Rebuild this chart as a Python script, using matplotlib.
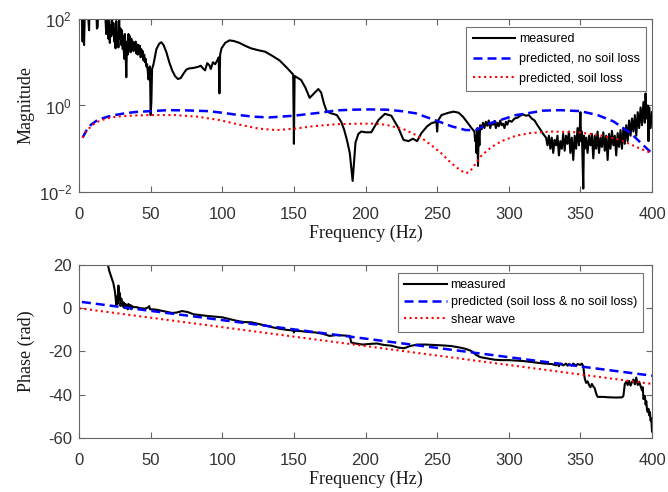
"""
Magnitude / phase comparison: measured vs predicted response
"""

import matplotlib
matplotlib.use('Agg')
import matplotlib.pyplot as plt
from matplotlib.ticker import NullLocator

# ---- measured magnitude ----
mag_freq = [
    2, 2.5, 3, 3.5, 4, 5, 6, 7, 7.5, 8, 9, 10, 11, 12, 12.5, 13, 13.5, 14.5, 16, 17,
    18, 19, 19.5, 20, 20.5, 21, 21.5, 22, 22.5, 23, 23.5, 24, 24.5, 25, 25.5, 26, 26.5, 27,
    27.5, 28, 28.5, 29, 29.5, 30, 30.5, 31, 31.5, 32, 32.5, 33, 33.5, 34, 34.5, 35, 35.5,
    36, 36.5, 37, 37.5, 38, 38.5, 39, 39.5, 40, 40.5, 41, 41.5, 42, 42.5, 43, 43.5, 44,
    44.5, 45, 45.5, 46, 46.5, 47, 47.5, 48, 48.5, 49, 49.5, 50, 50.5, 51, 52, 54, 56,
    57.5, 59, 61, 63, 65, 67, 69, 71, 73, 75, 77, 80, 83, 85, 86.5, 88, 89.5, 91, 92,
    93.5, 95, 96.5, 97.5, 98, 98.5, 99.5, 102, 105, 108, 112, 116, 120, 125, 130, 135,
    140, 145, 149.5, 150, 150.5, 155, 158, 161, 164, 167, 169, 171, 173, 176, 180, 183,
    185, 187, 189, 190.5, 191, 192, 193, 195, 197, 200, 204, 209, 213.5, 218, 223, 226.5,
    230, 233, 236, 239, 243, 246, 249.5, 250, 250.5, 253, 258, 261.5, 265, 268, 272, 274,
    276, 276.5, 277, 277.5, 278, 278.5, 279, 279.5, 280, 281, 282, 283, 284, 285, 286, 287,
    288, 289, 290, 291, 292, 293, 294, 295, 296, 297, 298, 299, 300, 302, 304, 306, 308,
    310, 312, 314, 316, 318, 320, 322, 324, 326, 327, 328, 329, 330, 331, 332, 333, 334,
    335, 336, 337, 338, 339, 340, 341, 342, 343, 344, 345, 346, 347, 348, 349, 350, 350.5,
    351, 352, 352.5, 353, 354, 355, 356, 357, 358, 359, 360, 361, 362, 363, 364, 365, 366,
    367, 368, 369, 370, 371, 372, 373, 374, 375, 376, 377, 378, 379, 380, 381, 382, 383,
    384, 385, 386, 387, 388, 389, 390, 391, 392, 393, 394, 395, 395.5, 396, 397, 397.5,
    398, 399, 400,
]
mag_measured = [
    150, 30, 200, 25, 120, 300, 200, 55, 250, 400, 300, 250, 350, 200, 60, 65, 250, 300, 250, 400,
    200, 45, 150, 110, 35, 90, 28, 70, 40, 120, 45, 80, 30, 60, 21, 90, 25, 50,
    22, 100, 35, 60, 25, 55, 20, 40, 12, 45, 18, 4.5, 30, 15, 45, 20, 40,
    17, 35, 22, 30, 18, 28, 20, 30, 16, 26, 15, 25, 17, 24, 13, 20, 14,
    18, 11, 15, 10, 12, 8, 9, 6, 4, 7, 8, 0.6, 1.2, 7, 9, 20, 27,
    29, 25, 17, 10, 6.5, 4.8, 4.1, 4.3, 5.5, 6.8, 7.2, 7.4, 7.8, 8.3, 7.2, 6.5, 9.5, 8.5, 7,
    10, 9, 11, 13, 1.9, 15, 21, 28, 32, 31, 28, 24, 21, 19, 17.5, 14,
    11, 7.5, 5.2, 0.13, 4.8, 3.9, 2.6, 1.5, 1.9, 2.4, 2.0, 1.1, 0.72, 0.66, 0.6, 0.42,
    0.28, 0.16, 0.08, 0.025, 0.018, 0.05, 0.14, 0.22, 0.25, 0.24, 0.24, 0.46, 0.64, 0.58, 0.3, 0.16,
    0.15, 0.17, 0.15, 0.23, 0.33, 0.39, 0.42, 0.25, 0.44, 0.6, 0.68, 0.72, 0.68, 0.55, 0.37, 0.3,
    0.25, 0.15, 0.2, 0.08, 0.3, 0.04, 0.25, 0.12, 0.35, 0.28, 0.4, 0.3, 0.42, 0.34, 0.45, 0.3,
    0.4, 0.36, 0.44, 0.3, 0.4, 0.33, 0.45, 0.35, 0.38, 0.3, 0.42, 0.36, 0.45, 0.42, 0.5, 0.52, 0.58,
    0.62, 0.58, 0.6, 0.5, 0.45, 0.35, 0.28, 0.22, 0.18, 0.12, 0.2, 0.1, 0.18, 0.08, 0.16, 0.12, 0.2,
    0.07, 0.15, 0.1, 0.22, 0.09, 0.2, 0.13, 0.25, 0.08, 0.18, 0.055, 0.2, 0.1, 0.3, 0.12, 0.7, 0.15,
    0.25, 0.012, 0.2, 0.1, 0.18, 0.08, 0.2, 0.12, 0.22, 0.06, 0.2, 0.1, 0.25, 0.08, 0.18, 0.11, 0.24,
    0.09, 0.2, 0.055, 0.22, 0.1, 0.26, 0.12, 0.2, 0.07, 0.23, 0.11, 0.27, 0.1, 0.3, 0.13, 0.35, 0.15,
    0.45, 0.2, 0.5, 0.25, 0.6, 0.2, 0.7, 0.3, 0.9, 0.35, 1.2, 0.4, 1.9, 0.5, 1.0, 0.15,
    0.9, 0.3, 0.7,
]

# ---- predicted magnitude ----
pred_freq_nl = [2.5, 5, 8, 12, 16, 20, 25, 32, 40, 50, 62, 75, 90, 100, 110, 122, 133, 150, 168,
                180, 191, 203, 215, 225, 235, 250, 260, 270, 277, 285, 295, 305, 313, 324,
                336, 350, 362, 373, 385, 394, 400]
pred_mag_nl = [0.18, 0.26, 0.35, 0.44, 0.5, 0.55, 0.6, 0.66, 0.71, 0.74, 0.78, 0.77, 0.74, 0.68,
               0.61, 0.55, 0.53, 0.58, 0.68, 0.77, 0.8, 0.81, 0.8, 0.74, 0.66, 0.44, 0.33, 0.27,
               0.27, 0.37, 0.47, 0.6, 0.66, 0.76, 0.78, 0.74, 0.6, 0.43, 0.23, 0.12, 0.078]

pred_freq_sl = [2.5, 5, 8, 11, 15, 20.5, 26, 32, 40, 50, 67, 83, 98, 112, 126, 138, 150, 163, 180,
                196, 205, 214, 227, 239, 246, 253, 260, 266, 270, 273, 277, 281, 288, 295, 305,
                315, 329, 348, 362, 378, 389, 400]
pred_mag_sl = [0.18, 0.25, 0.32, 0.39, 0.45, 0.51, 0.55, 0.57, 0.59, 0.6, 0.6, 0.55, 0.46, 0.36,
               0.29, 0.27, 0.29, 0.33, 0.37, 0.38, 0.38, 0.36, 0.28, 0.18, 0.12, 0.078, 0.046,
               0.032, 0.027, 0.03, 0.046, 0.07, 0.11, 0.15, 0.2, 0.23, 0.25, 0.24, 0.21, 0.16,
               0.11, 0.078]

# ---- measured phase ----
ph_freq = [
    20, 20.5, 21, 22, 23, 24, 25, 25.5, 26, 26.5, 27, 27.5, 28, 28.5, 29, 29.5, 30, 30.5, 31,
    31.5, 32, 32.5, 33, 33.5, 34, 34.5, 35, 36, 36.5, 37, 38, 40, 43, 46, 48, 49, 49.5, 52,
    55, 60, 65, 68, 72, 76, 80, 85, 90, 95, 100, 105, 110, 115, 120, 125, 130, 135, 140, 145,
    149.5, 150, 150.5, 155, 160, 165, 170, 175, 180, 185, 189, 190, 193, 198, 203, 208, 213,
    218, 223, 227, 231, 236, 242, 248, 254, 260, 266, 270, 274, 277, 280, 285, 290, 295, 300,
    305, 310, 315, 320, 325, 330, 333, 334, 335, 336, 338, 340, 341, 342, 344, 345, 347, 348,
    350, 351, 352, 353, 354, 355, 356, 357, 358, 359, 360, 361, 362, 366, 370, 375, 379, 380,
    381, 382, 383, 384, 385, 386, 387, 388, 389, 390, 391, 392, 393, 393.5, 394, 395, 395.5,
    396, 396.5, 397, 397.5, 398, 398.5, 399, 399.5, 400,
]
ph_measured = [
    22, 19, 17.5, 15.5, 13.5, 11.5, 8, 5, 1.5, 5.5, 2, 10.5, 4, 7, 1, 4.5, 1.5, 3, 0.5,
    2.5, 0, 2, 0.5, 1.5, -0.5, 2, 0.5, 1.5, -0.5, 1, 0.5, 0.5, 0, -0.2, 0.3, 1, -0.5, -0.5,
    -0.8, -1.5, -2.2, -2.0, -1.3, -1.8, -2.8, -3.2, -3.6, -3.9, -4.2, -5.0, -5.8, -6.4, -6.5, -7.2, -8.0, -8.8, -9.5, -10.0,
    -10.3, -11.2, -10.4, -10.6, -11.0, -11.2, -11.8, -12.8, -12.4, -12.6, -12.8, -15.8, -16.3, -16.8, -16.5, -16.3, -17.0,
    -17.3, -18.2, -18.5, -17.5, -16.8, -16.8, -17.0, -17.2, -17.5, -18.2, -18.8, -19.8, -21.5, -22.6, -23.2, -23.8, -24.0, -24.0,
    -24.2, -24.4, -24.8, -25.2, -25.6, -25.8, -26.4, -25.4, -26.8, -25.6, -26.4, -25.6, -26.6, -25.8, -26.5, -25.6, -26.6, -25.8,
    -26.2, -25.6, -26.8, -32.5, -34.5, -33.8, -35.5, -36.5, -35.0, -36.2, -37.0, -39.5, -41.0, -41.0, -41.2, -41.3, -41.2, -40.6,
    -35.0, -34.0, -35.5, -33.6, -35.8, -34.2, -33.0, -35.2, -32.0, -35.5, -34.0, -36.0, -38.0, -36.5, -42.0, -40.5, -44.5,
    -43.0, -47.0, -48.0, -46.5, -49.5, -48.0, -52.0, -51.0, -57.0,
]

# ---- predicted phase ----
pred_ph_freq = [2, 400]
pred_ph = [2.9, -31.2]
shear_freq = [0, 400]
shear_ph = [0.0, -35.0]

# ---- style ----
plt.rcParams['font.family'] = ['Liberation Sans', 'DejaVu Sans']
plt.rcParams['mathtext.fontset'] = 'custom'
plt.rcParams['mathtext.rm'] = 'Liberation Sans'
plt.rcParams['mathtext.it'] = 'Liberation Sans:italic'
plt.rcParams['axes.unicode_minus'] = False
edge = '0.4'
tick_col = '0.2'
label_font = dict(family='Liberation Serif', fontsize=13, color='0.1')


def style_axes(ax):
    for s in ax.spines.values():
        s.set_color(edge)
        s.set_linewidth(0.8)
    ax.tick_params(direction='in', top=True, right=True, length=4, width=0.8,
                   color=edge, labelcolor=tick_col, labelsize=12)
    ax.tick_params(axis='x', pad=10.5)
    ax.tick_params(axis='y', pad=5)
    ax.set_xlim(0, 400)
    ax.set_xticks(range(0, 401, 50))
    ax.set_xlabel('Frequency (Hz)', labelpad=2, **label_font)
    ax.yaxis.set_label_coords(-0.077, 0.5)


fig = plt.figure(figsize=(6.68, 4.92), dpi=100)
ax1 = fig.add_axes([0.1183, 0.6098, 0.8578, 0.3516])
ax2 = fig.add_axes([0.1183, 0.1098, 0.8578, 0.3516])

# 1. magnitude
ax1.plot(mag_freq, mag_measured, color='k', lw=1.5, label='measured')
ax1.plot(pred_freq_nl, pred_mag_nl, color='b', lw=1.8, dashes=(3.6, 2.0),
         label='predicted, no soil loss')
ax1.plot(pred_freq_sl, pred_mag_sl, color='r', lw=1.5, ls=':',
         label='predicted, soil loss')
ax1.set_yscale('log')
ax1.set_ylim(1e-2, 1e2)
ax1.set_yticks([1e-2, 1, 1e2])
ax1.set_yticklabels([r'$\mathregular{10^{-2}}$', r'$\mathregular{10^{0}}$',
                     r'$\mathregular{10^{2}}$'])
ax1.yaxis.set_minor_locator(NullLocator())
ax1.set_ylabel('Magnitude', **label_font)
style_axes(ax1)
leg = ax1.legend(loc='upper right', bbox_to_anchor=(0.9895, 0.954), borderaxespad=0,
                 fontsize=9, fancybox=False, framealpha=1, edgecolor='0.45',
                 handlelength=3.4, handletextpad=0.3, labelspacing=0.62, borderpad=0.5)
leg.get_frame().set_linewidth(0.8)

# 2. phase
ax2.plot(ph_freq, ph_measured, color='k', lw=1.5, label='measured')
ax2.plot(pred_ph_freq, pred_ph, color='b', lw=1.8, dashes=(3.6, 2.0),
         label='predicted (soil loss & no soil loss)')
ax2.plot(shear_freq, shear_ph, color='r', lw=1.5, ls=':', label='shear wave')
ax2.set_ylim(-60, 20)
ax2.set_yticks(range(-60, 21, 20))
ax2.set_ylabel('Phase (rad)', **label_font)
style_axes(ax2)
leg = ax2.legend(loc='upper right', bbox_to_anchor=(0.9843, 0.954), borderaxespad=0,
                 fontsize=9, fancybox=False, framealpha=1, edgecolor='0.45',
                 handlelength=3.4, handletextpad=0.3, labelspacing=0.42, borderpad=0.5)
leg.get_frame().set_linewidth(0.8)

fig.savefig('out.png', dpi=100)
